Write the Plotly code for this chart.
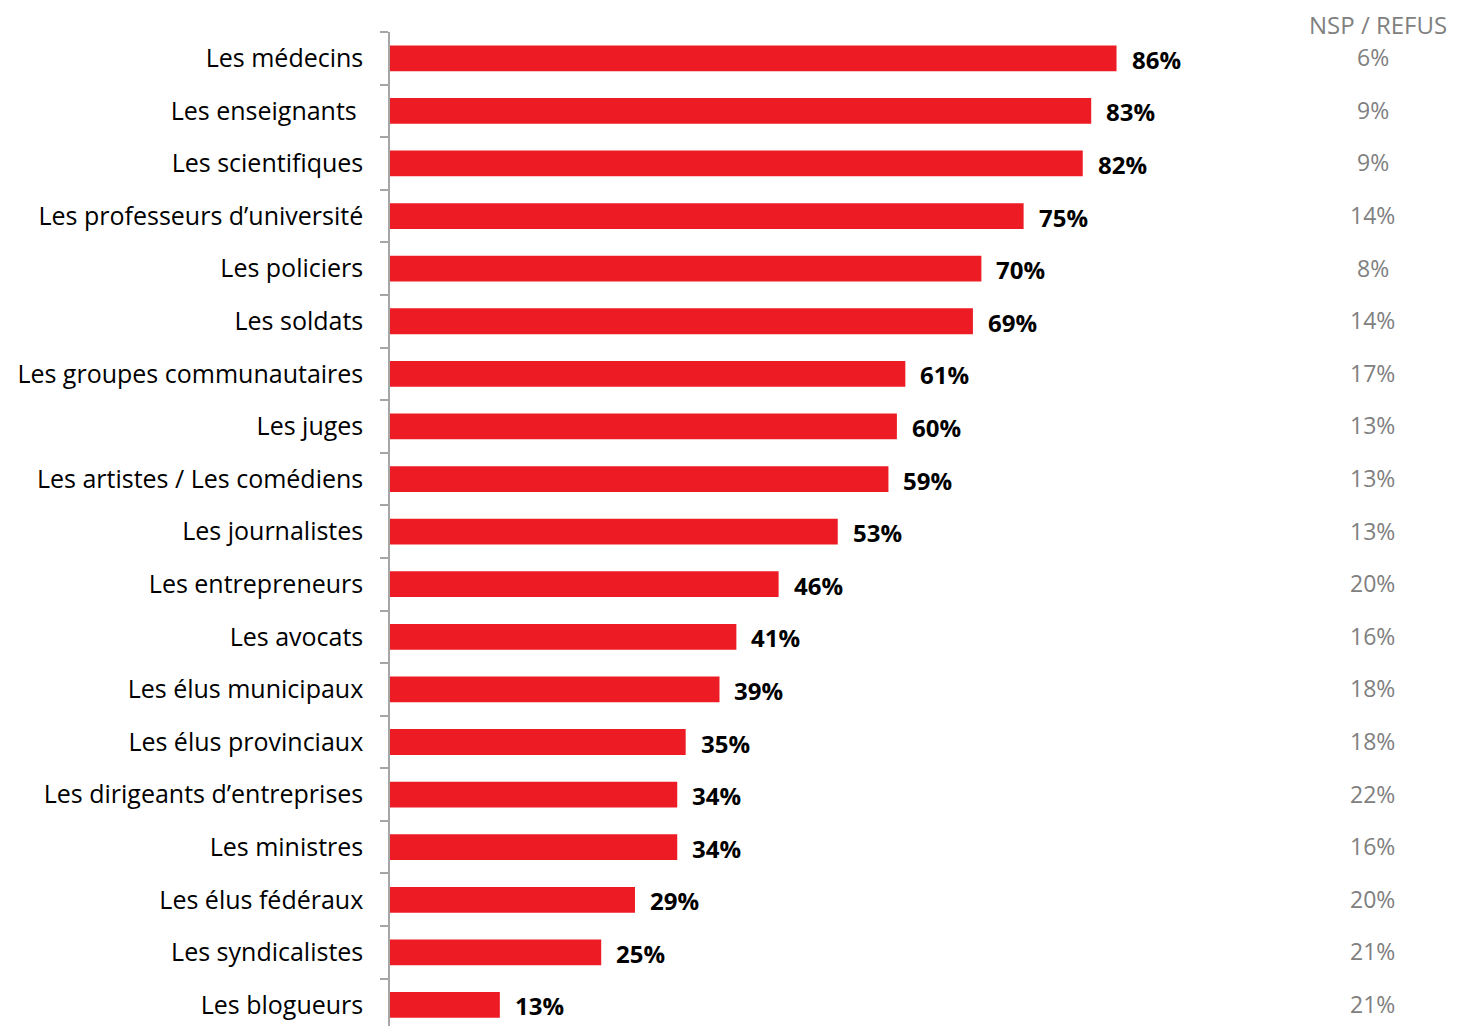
import plotly.graph_objects as go

categories = [
    "Les médecins", "Les enseignants\u00a0", "Les scientifiques", "Les professeurs d’université",
    "Les policiers", "Les soldats", "Les groupes communautaires", "Les juges",
    "Les artistes / Les comédiens", "Les journalistes", "Les entrepreneurs", "Les avocats",
    "Les élus municipaux", "Les élus provinciaux", "Les dirigeants d’entreprises",
    "Les ministres", "Les élus fédéraux", "Les syndicalistes", "Les blogueurs",
]
values = [86, 83, 82, 75, 70, 69, 61, 60, 59, 53, 46, 41, 39, 35, 34, 34, 29, 25, 13]
nsp_values = [6, 9, 9, 14, 8, 14, 17, 13, 13, 13, 20, 16, 18, 18, 22, 16, 20, 21, 21]
nsp_header = "NSP / REFUS"

FONT = "Open Sans"
RED = "#ED1C24"
GREY = "#808080"

fig = go.Figure()
fig.add_trace(go.Bar(
    x=values, y=categories, orientation="h",
    marker=dict(color=RED, line=dict(width=0)),
    width=0.49, hoverinfo="skip",
))

annotations = []
for cat, v in zip(categories, values):
    annotations.append(dict(
        x=v, y=cat, xref="x", yref="y", text=f"<b>{v}%</b>",
        showarrow=False, xanchor="left", yanchor="middle", xshift=13, yshift=-1,
        font=dict(family=FONT, size=24, color="black"),
    ))
for cat, n in zip(categories, nsp_values):
    annotations.append(dict(
        x=0.921, y=cat, xref="paper", yref="y", text=f"{n}%",
        showarrow=False, xanchor="center", yanchor="middle", yshift=1,
        font=dict(family=FONT, size=23, color=GREY),
    ))
annotations.append(dict(
    x=0.926, y=1.0, xref="paper", yref="paper", text=nsp_header,
    showarrow=False, xanchor="center", yanchor="middle", yshift=8,
    font=dict(family=FONT, size=24, color=GREY),
))

fig.update_layout(
    width=1449, height=1018,
    margin=dict(l=382, r=0, t=24, b=0),
    paper_bgcolor="white", plot_bgcolor="white",
    showlegend=False,
    annotations=annotations,
    xaxis=dict(range=[0, 126.3], showgrid=False, zeroline=False, showline=False,
               showticklabels=False, ticks=""),
    yaxis=dict(
        categoryorder="array", categoryarray=categories,
        range=[18.4, -0.5], showgrid=False, zeroline=False,
        showline=True, linecolor="#A6A6A6", linewidth=1.5,
        ticks="outside", ticklen=8, tickcolor="#A6A6A6", tickwidth=1.5,
        tickson="boundaries", ticklabelstandoff=20,
        tickfont=dict(family=FONT, size=25, color="black"),
    ),
)

fig.write_html("out.html")
